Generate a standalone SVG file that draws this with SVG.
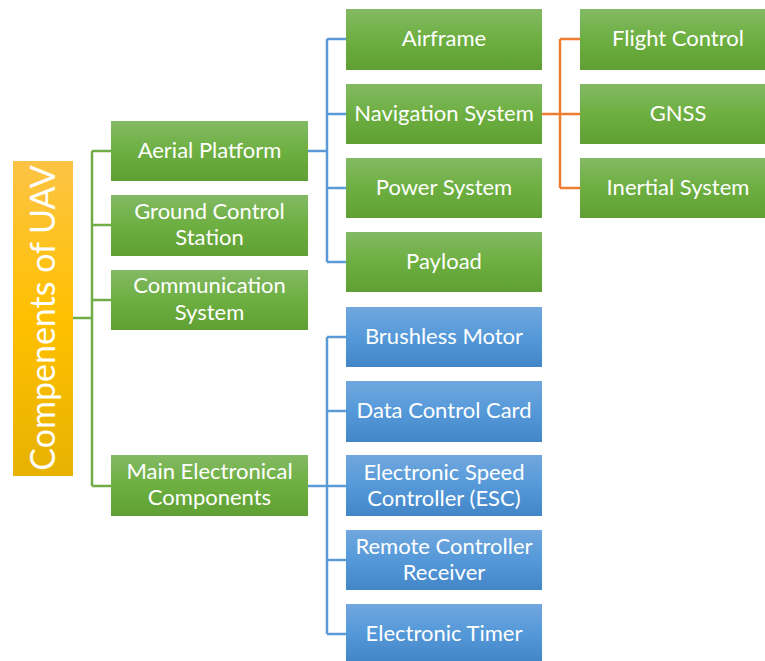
<svg xmlns="http://www.w3.org/2000/svg" width="765" height="661" viewBox="0 0 765 661">
<defs>
<linearGradient id="gG" x1="0" y1="0" x2="0" y2="1">
<stop offset="0" stop-color="#83b964"/><stop offset="0.5" stop-color="#6daf41"/><stop offset="1" stop-color="#5f9f33"/>
</linearGradient>
<linearGradient id="gB" x1="0" y1="0" x2="0" y2="1">
<stop offset="0" stop-color="#71a7de"/><stop offset="0.5" stop-color="#5599d9"/><stop offset="1" stop-color="#4286c8"/>
</linearGradient>
<linearGradient id="gO" x1="0" y1="0" x2="0" y2="1">
<stop offset="0" stop-color="#fcc445"/><stop offset="0.5" stop-color="#ffc000"/><stop offset="1" stop-color="#e7b202"/>
</linearGradient>
<style>
.g{fill:url(#gG)}
.b{fill:url(#gB)}
text{font-family:Lato,"Liberation Sans",sans-serif;font-size:22px;fill:#fff;text-anchor:middle}
.cg{stroke:#70ad47;stroke-width:2.5;fill:none}
.cb{stroke:#5b9bd5;stroke-width:2.5;fill:none}
.co{stroke:#ed7d31;stroke-width:2.5;fill:none}
</style>
</defs>
<g id="connectors">
<path class="cg" d="M73 318H92M92 151V486M92 151H111M92 225H111M92 300H111M92 486H111"/>
<path class="cb" d="M308 151H327M327 39V262M327 39H346M327 114H346M327 188H346M327 262H346"/>
<path class="cb" d="M308 486H327M327 337V634M327 337H346M327 411H346M327 486H346M327 560H346M327 634H346"/>
<path class="co" d="M542 114H560M560 39V188M560 39H580M560 114H580M560 188H580"/>
</g>
<g id="root"><rect x="13" y="161" width="60" height="315" fill="url(#gO)"/>
<text transform="translate(55 318) rotate(-90)" style="font-size:34px">Compenents of UAV</text></g>
<g id="aerial"><rect class="g" x="111" y="121" width="197" height="60"/><text x="209.5" y="158">Aerial Platform</text></g>
<g id="ground"><rect class="g" x="111" y="195" width="197" height="61"/><text x="209.5" y="219">Ground Control</text><text x="209.5" y="245">Station</text></g>
<g id="comm"><rect class="g" x="111" y="270" width="197" height="60"/><text x="209.5" y="293">Communication</text><text x="209.5" y="320">System</text></g>
<g id="main"><rect class="g" x="111" y="455" width="197" height="61"/><text x="209.5" y="479">Main Electronical</text><text x="209.5" y="505">Components</text></g>
<g id="airframe"><rect class="g" x="346" y="9" width="196" height="61"/><text x="444" y="46">Airframe</text></g>
<g id="nav"><rect class="g" x="346" y="84" width="196" height="60"/><text x="444" y="121">Navigation System</text></g>
<g id="power"><rect class="g" x="346" y="158" width="196" height="60"/><text x="444" y="195">Power System</text></g>
<g id="payload"><rect class="g" x="346" y="232" width="196" height="60"/><text x="444" y="269">Payload</text></g>
<g id="flight"><rect class="g" x="580" y="9" width="185" height="61"/><text x="678" y="46">Flight Control</text></g>
<g id="gnss"><rect class="g" x="580" y="84" width="185" height="60"/><text x="678" y="121">GNSS</text></g>
<g id="inertial"><rect class="g" x="580" y="158" width="185" height="60"/><text x="678" y="195">Inertial System</text></g>
<g id="motor"><rect class="b" x="346" y="307" width="196" height="60"/><text x="444" y="344">Brushless Motor</text></g>
<g id="card"><rect class="b" x="346" y="381" width="196" height="61"/><text x="444" y="418">Data Control Card</text></g>
<g id="esc"><rect class="b" x="346" y="455" width="196" height="61"/><text x="444" y="480">Electronic Speed</text><text x="444" y="506">Controller (ESC)</text></g>
<g id="remote"><rect class="b" x="346" y="530" width="196" height="60"/><text x="444" y="554">Remote Controller</text><text x="444" y="580">Receiver</text></g>
<g id="timer"><rect class="b" x="346" y="604" width="196" height="57"/><text x="444" y="641">Electronic Timer</text></g>
</svg>
